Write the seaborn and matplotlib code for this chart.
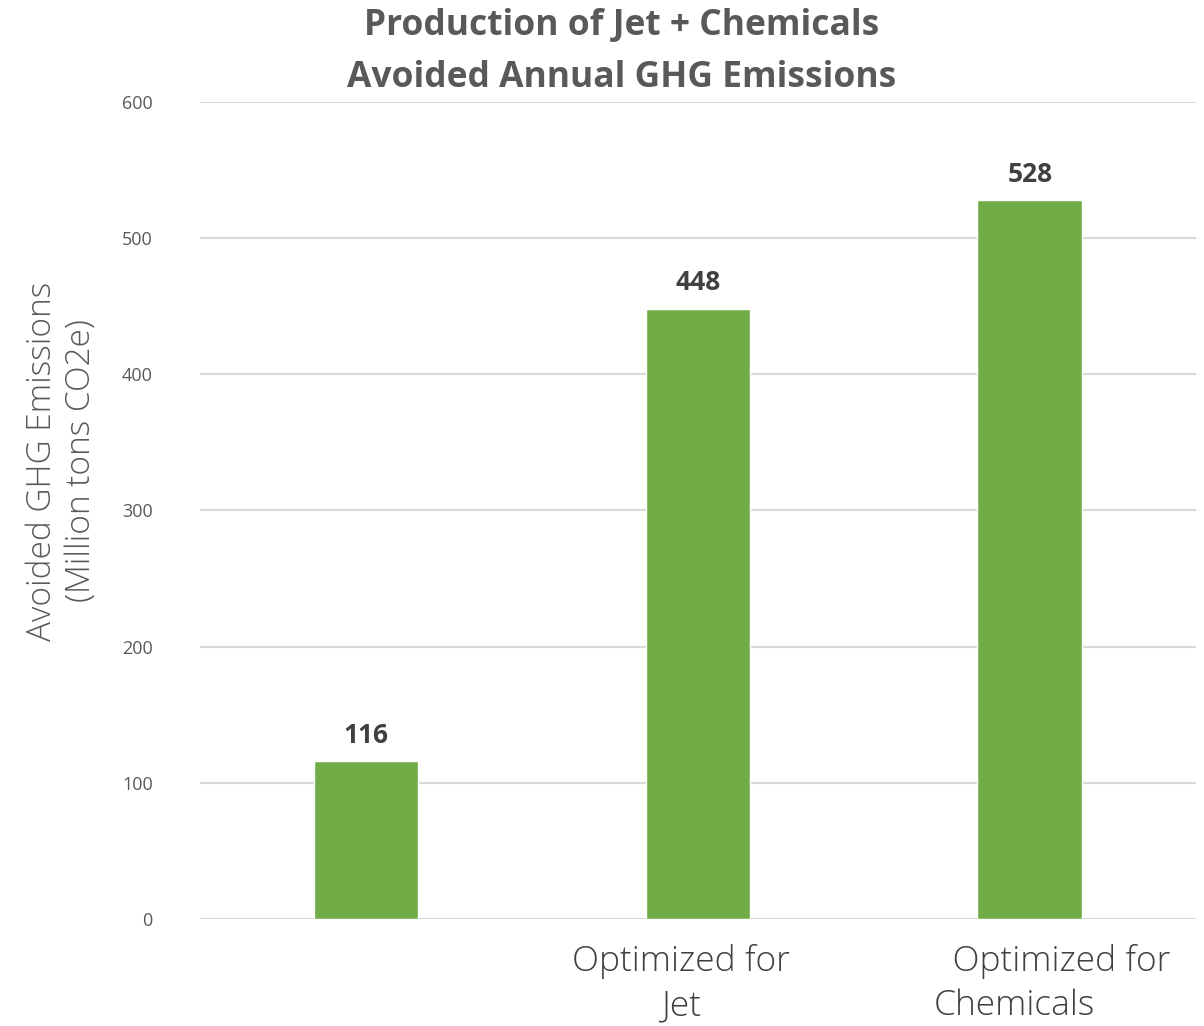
import matplotlib
matplotlib.use("Agg")
import matplotlib.pyplot as plt
import matplotlib.transforms as mtrans
import pandas as pd
import seaborn as sns

# values
categories = ["", "Optimized for\nJet", "  Optimized for\nChemicals"]
avoided_ghg = [116, 448, 528]
title_lines = ["Production of Jet + Chemicals", "Avoided Annual GHG Emissions"]
y_label = "Avoided GHG Emissions\n(Million tons CO2e)"
y_ticks = [0, 100, 200, 300, 400, 500, 600]

df = pd.DataFrame({"scenario": categories, "ghg": avoided_ghg})

sns.set_theme(style="white")
plt.rcParams["font.family"] = ["Open Sans", "DejaVu Sans"]

fig = plt.figure(figsize=(12.04, 10.26), dpi=100)
ax = fig.add_axes([0.1661, 0.1043, 0.8272, 0.7963])

sns.barplot(data=df, x="scenario", y="ghg", color="#70AD47", saturation=1,
            width=0.316, ax=ax, zorder=3)

ax.set_ylim(0, 600)
ax.set_yticks(y_ticks)
ax.set_xlim(-0.5, 2.5)
ax.yaxis.grid(True, color="#D9D9D9", linewidth=1.5, zorder=0)
ax.set_axisbelow(True)
for s in ax.spines.values():
    s.set_visible(False)
ax.tick_params(axis="y", length=0, labelsize=13, labelcolor="#595959", pad=34)
ax.tick_params(axis="x", length=0, labelsize=25.5, labelcolor="#404040", pad=18)

# excel nudges the wrapped category labels a little off centre
nudges = [0, -17, 22]
for lbl, dx in zip(ax.get_xticklabels(), nudges):
    lbl.set_fontweight("light")
    lbl.set_linespacing(1.36)
    if dx > 0:
        lbl.set_multialignment("left")
    lbl.set_transform(lbl.get_transform() +
                      mtrans.ScaledTranslation(dx / 100, 0, fig.dpi_scale_trans))

ax.set_xlabel("")
ax.set_ylabel(y_label, fontsize=24, color="#595959", fontweight="light",
              linespacing=1.2)
ax.yaxis.set_label_coords(-0.1024, 0.5606)

for i, v in enumerate(avoided_ghg):
    ax.annotate(f"{v}", (i, v), xytext=(0, 9), textcoords="offset points",
                ha="center", va="bottom", fontsize=19, fontweight="bold",
                color="#404040")

fig.text(622 / 1204, 1 - 52 / 1026, "\n".join(title_lines), ha="center",
         va="center", fontsize=25.5, fontweight="bold", color="#595959",
         linespacing=1.6)

fig.savefig("out.png", dpi=100)
